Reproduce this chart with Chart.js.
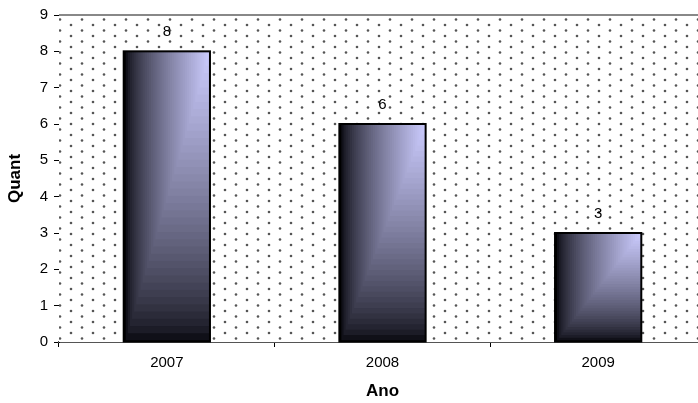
<!DOCTYPE html>
<html>
<head>
<meta charset="utf-8">
<script src="https://cdn.jsdelivr.net/npm/chart.js@4"></script>
<style>
  html, body { margin: 0; padding: 0; background: #fff; }
  #wrap { width: 698px; height: 403px; overflow: hidden; }
</style>
</head>
<body>
<div id="wrap"><canvas id="chart" width="706" height="403"></canvas></div>
<script>
  // Data
  const years = ['2007', '2008', '2009'];
  const counts = [8, 6, 3];
  const yTicks = [0, 1, 2, 3, 4, 5, 6, 7, 8, 9];

  const FONT = 'Arial, "Liberation Sans", sans-serif';
  const DARK = [16, 16, 24];
  const LIGHT = [202, 202, 252];

  // dotted background tile
  function makeDots() {
    const c = document.createElement('canvas');
    c.width = 22; c.height = 11;
    const g = c.getContext('2d');
    g.fillStyle = '#fff';
    g.fillRect(0, 0, 22, 11);
    g.fillStyle = '#555';
    [[5, 3], [16, 8.5]].forEach(([x, y]) => {
      g.beginPath();
      g.arc(x, y, 1.3, 0, Math.PI * 2);
      g.fill();
    });
    return c;
  }

  const plotBg = {
    id: 'plotBg',
    beforeDatasetsDraw(chart) {
      const { ctx, chartArea: a } = chart;
      ctx.save();
      ctx.fillStyle = ctx.createPattern(makeDots(), 'repeat');
      ctx.fillRect(a.left, a.top, a.right - a.left, a.bottom - a.top);
      // top border
      ctx.fillStyle = '#888';
      ctx.fillRect(a.left, a.top - 1, a.right - a.left, 2);
      ctx.restore();
    }
  };

  function mix(t) {
    t = Math.pow(t, 0.75);
    const c = DARK.map((d, i) => Math.round(d + (LIGHT[i] - d) * t));
    return `rgb(${c[0]},${c[1]},${c[2]})`;
  }

  // corner-style shaded bars + value labels
  const shadedBars = {
    id: 'shadedBars',
    afterDatasetsDraw(chart) {
      const { ctx } = chart;
      const meta = chart.getDatasetMeta(0);
      meta.data.forEach((bar, idx) => {
        const left = bar.x - bar.width / 2;
        const right = bar.x + bar.width / 2;
        const top = bar.y;
        const bottom = bar.base;
        const w = right - left, h = bottom - top;
        const N = 40;
        ctx.save();
        ctx.fillStyle = '#000';
        ctx.fillRect(left, top, w, h);
        for (let i = 0; i < N; i++) {
          const t = i / (N - 1);
          const x0 = left + 2 + i * (w - 2) / N;
          const y1 = bottom - 1 - i * (h - 1) / N;
          ctx.fillStyle = mix(t);
          ctx.fillRect(x0, top, right - x0, y1 - top);
        }
        ctx.strokeStyle = '#000';
        ctx.lineWidth = 2;
        ctx.strokeRect(left, top, w, h);
        ctx.fillStyle = '#000';
        ctx.font = '15px ' + FONT;
        ctx.textAlign = 'center';
        ctx.textBaseline = 'middle';
        ctx.fillText(String(counts[idx]), bar.x, top - 19);
        ctx.restore();
      });
    }
  };

  new Chart(document.getElementById('chart'), {
    type: 'bar',
    data: {
      labels: years,
      datasets: [{
        data: counts,
        backgroundColor: 'rgba(0,0,0,0)',
        borderWidth: 0,
        categoryPercentage: 1,
        barPercentage: 0.4
      }]
    },
    options: {
      responsive: false,
      animation: false,
      layout: { padding: { top: 15, right: 0, left: 0, bottom: 0 } },
      plugins: { legend: { display: false }, tooltip: { enabled: false } },
      scales: {
        x: {
          grid: { display: true, offset: true, drawOnChartArea: false, tickLength: 5, color: '#000', lineWidth: 1 },
          border: { display: true, color: '#555', width: 2 },
          ticks: { color: '#000', font: { family: FONT, size: 15 }, padding: 7 },
          title: { display: true, text: 'Ano', color: '#000', font: { family: FONT, size: 17, weight: 'bold' }, padding: { top: 4, bottom: 1 } },
          afterFit(s) { s.height = 61; }
        },
        y: {
          min: 0,
          max: 9,
          afterBuildTicks(s) { s.ticks = yTicks.map(v => ({ value: v })); },
          grid: { display: true, drawOnChartArea: false, tickLength: 5, color: '#000' },
          border: { display: true, color: '#000', width: 1 },
          ticks: { color: '#000', font: { family: FONT, size: 15 }, padding: 6 },
          title: { display: true, text: 'Quant', color: '#000', font: { family: FONT, size: 17, weight: 'bold' }, padding: { top: 5, bottom: 4 } },
          afterFit(s) { s.width = 59; }
        }
      }
    },
    plugins: [plotBg, shadedBars]
  });
</script>
</body>
</html>
